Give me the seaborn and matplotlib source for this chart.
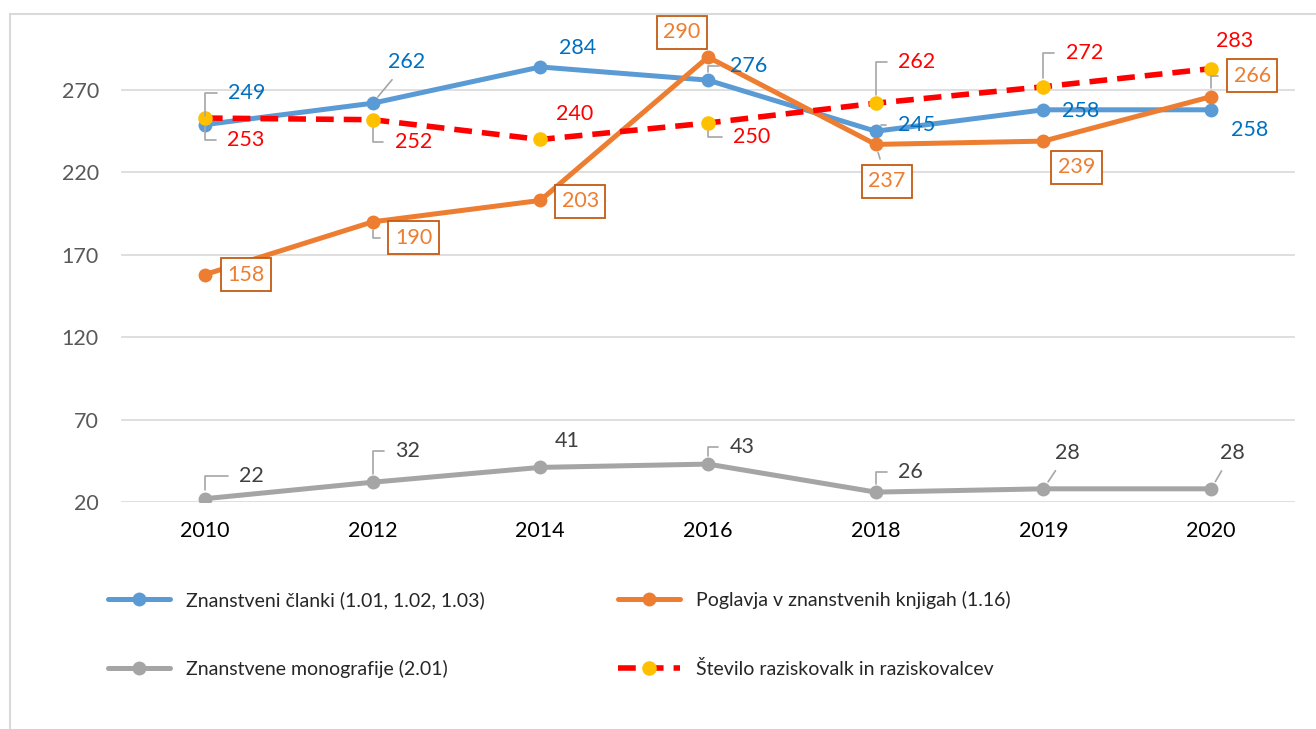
import matplotlib
matplotlib.use("Agg")
import matplotlib.pyplot as plt
import seaborn as sns
from matplotlib.patches import Rectangle

years = ["2010", "2012", "2014", "2016", "2018", "2019", "2020"]
clanki = [249, 262, 284, 276, 245, 258, 258]
poglavja = [158, 190, 203, 290, 237, 239, 266]
monografije = [22, 32, 41, 43, 26, 28, 28]
raziskovalci = [253, 252, 240, 250, 262, 272, 283]
y_ticks = [20, 70, 120, 170, 220, 270]

label_clanki = "Znanstveni članki (1.01, 1.02, 1.03)"
label_poglavja = "Poglavja v znanstvenih knjigah (1.16)"
label_monografije = "Znanstvene monografije (2.01)"
label_raziskovalci = "Število raziskovalk in raziskovalcev"

# label offsets in pixels (dx, dy) and leader line kind per point
offs_clanki = [(42, 32), (34, 41), (37, 19), (41, 14), (41, 6), (37, -1), (38, -20)]
lead_clanki = ["angle", "straight", None, "angle", "angle", None, None]
offs_poglavja = [(41, 0), (41, -16), (40, -1), (-26, 25), (11, -37), (33, -26), (41, 21)]
lead_poglavja = [None, "angle", None, None, "straight", None, "angle"]
offs_mono = [(47, 23), (35, 31), (27, 26), (34, 17), (35, 20), (24, 36), (21, 36)]
lead_mono = ["angle", "angle", None, "angle", "angle", "straight", "straight"]
offs_razisk = [(41, -22), (41, -22), (34, 25), (44, -14), (41, 41), (41, 34), (23, 28)]
lead_razisk = ["angle", "angle", None, "angle", "angle", "angle", None]

sns.set_theme(style="white")
plt.rcParams["font.family"] = ["Lato", "DejaVu Sans"]

fig = plt.figure(figsize=(13.16, 7.29), dpi=100)
ax = fig.add_axes([121 / 1316, 1 - 502 / 729, (1295 - 121) / 1316, (502 - 40.6) / 729])

blue, orange, gray, red, yellow = "#5B9BD5", "#ED7D31", "#A5A5A5", "#FF0000", "#FFC000"

sns.lineplot(x=years, y=clanki, ax=ax, color=blue, linewidth=3.6, marker="o",
             markersize=10, markeredgewidth=0, sort=False, label=label_clanki)
sns.lineplot(x=years, y=poglavja, ax=ax, color=orange, linewidth=3.6, marker="o",
             markersize=10, markeredgewidth=0, sort=False, label=label_poglavja)
sns.lineplot(x=years, y=monografije, ax=ax, color=gray, linewidth=3.6, marker="o",
             markersize=10, markeredgewidth=0, sort=False, label=label_monografije)
sns.lineplot(x=years, y=raziskovalci, ax=ax, color=red, linewidth=4.0, marker="o",
             markersize=10.5, markeredgewidth=0, markerfacecolor=yellow,
             sort=False, label=label_raziskovalci)
ax.lines[-1].set_dashes([3.2, 1.8])

ax.set_xlim(-0.5, len(years) - 0.5)
ax.set_ylim(20, 300)
ax.set_yticks(y_ticks)
ax.yaxis.grid(True, color="#D9D9D9", linewidth=1.2)
ax.xaxis.grid(False)
for s in ax.spines.values():
    s.set_visible(False)
ax.tick_params(axis="y", length=0, pad=16, labelsize=15.5, labelcolor="#595959")
ax.tick_params(axis="x", length=0, pad=14, labelsize=15.5, labelcolor="#000000")
ax.set_xlabel("")
ax.set_ylabel("")
ax.legend_.remove()


def add_labels(values, offsets, leaders, color, boxed=False):
    for yr, v, (dx, dy), lead in zip(years, values, offsets, leaders):
        kw = {}
        if boxed:
            kw["bbox"] = dict(boxstyle="square,pad=0.3", facecolor="white",
                              edgecolor="#C55A11", linewidth=1.3)
        if lead == "angle":
            kw["arrowprops"] = dict(arrowstyle="-", color="#A6A6A6", lw=1.2,
                                    connectionstyle="angle,angleA=0,angleB=90,rad=0",
                                    shrinkA=6, shrinkB=6)
        elif lead == "straight":
            kw["arrowprops"] = dict(arrowstyle="-", color="#A6A6A6", lw=1.2,
                                    shrinkA=4, shrinkB=6)
        ax.annotate(str(v), xy=(yr, v), xytext=(dx, dy), textcoords="offset pixels",
                    ha="center", va="center", fontsize=15.5, color=color,
                    zorder=5, **kw)


add_labels(clanki, offs_clanki, lead_clanki, "#0070C0")
add_labels(poglavja, offs_poglavja, lead_poglavja, orange, boxed=True)
add_labels(monografije, offs_mono, lead_mono, "#404040")
add_labels(raziskovalci, offs_razisk, lead_razisk, red)

handles = ax.lines
leg_kw = dict(frameon=False, fontsize=14, handlelength=3.2, handletextpad=0.8,
              labelspacing=2.6, borderpad=0, borderaxespad=0, loc="upper left")
leg1 = fig.legend([handles[0], handles[2]], [label_clanki, label_monografije],
                  bbox_to_anchor=(108 / 1316, 1 - 591 / 729), **leg_kw)
leg2 = fig.legend([handles[1], handles[3]], [label_poglavja, label_raziskovalci],
                  bbox_to_anchor=(618 / 1316, 1 - 591 / 729), **leg_kw)

fig.add_artist(Rectangle((10 / 1316, -0.1), 1.2, 1.1 - 14 / 729,
                         transform=fig.transFigure, fill=False,
                         edgecolor="#D9D9D9", linewidth=1.5))

fig.savefig("out.png", dpi=100)
plt.close(fig)
